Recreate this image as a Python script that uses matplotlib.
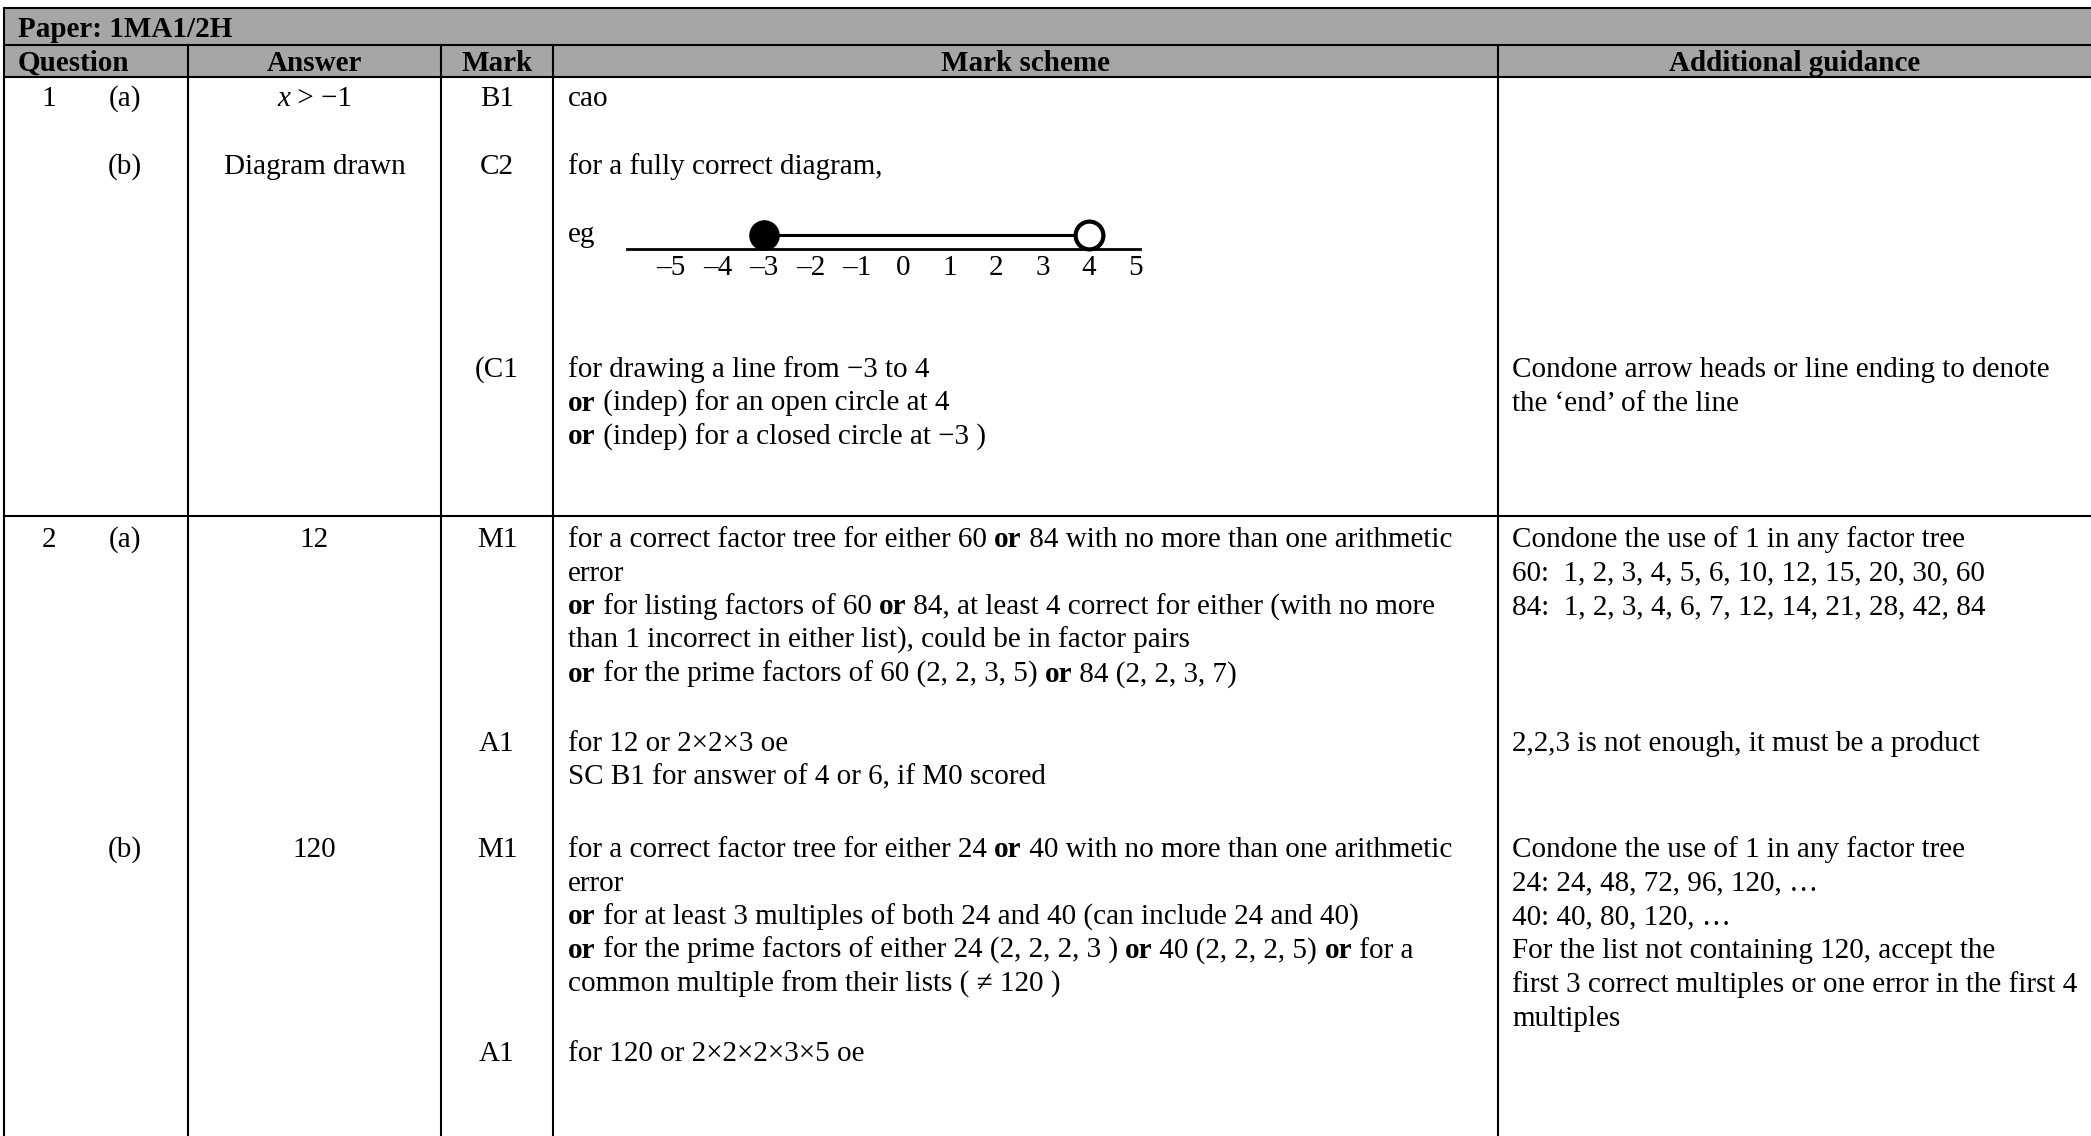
import matplotlib
matplotlib.use("Agg")
import matplotlib.pyplot as plt
from matplotlib.font_manager import FontProperties

# ---------------- data ----------------
paper_title = "Paper: 1MA1/2H"
headers = ["Question", "Answer", "Mark", "Mark scheme", "Additional guidance"]
q_labels = ["1", "2"]
part_labels = ["(a)", "(b)", "(a)", "(b)"]
answers = ["*x* > −1", "Diagram drawn", "12", "120"]
mark_codes = ["B1", "C2", "(C1", "M1", "A1", "M1", "A1"]
scheme_texts = [
    ["cao"],
    ["for a fully correct diagram,"],
    ["for drawing a line from −3 to 4",
     "**or** (indep) for an open circle at 4",
     "**or** (indep) for a closed circle at −3 )"],
    ["for a correct factor tree for either 60 **or** 84 with no more than one arithmetic",
     "error",
     "**or** for listing factors of 60 **or** 84, at least 4 correct for either (with no more",
     "than 1 incorrect in either list), could be in factor pairs",
     "**or** for the prime factors of 60 (2, 2, 3, 5) **or** 84 (2, 2, 3, 7)"],
    ["for 12 or 2×2×3 oe",
     "SC B1 for answer of 4 or 6, if M0 scored"],
    ["for a correct factor tree for either 24 **or** 40 with no more than one arithmetic",
     "error",
     "**or** for at least 3 multiples of both 24 and 40 (can include 24 and 40)",
     "**or** for the prime factors of either 24 (2, 2, 2, 3 ) **or** 40 (2, 2, 2, 5) **or** for a",
     "common multiple from their lists ( ≠ 120 )"],
    ["for 120 or 2×2×2×3×5 oe"],
]
guidance_texts = [
    [],
    [],
    ["Condone arrow heads or line ending to denote",
     "the ‘end’ of the line"],
    ["Condone the use of 1 in any factor tree",
     "60:  1, 2, 3, 4, 5, 6, 10, 12, 15, 20, 30, 60",
     "84:  1, 2, 3, 4, 6, 7, 12, 14, 21, 28, 42, 84"],
    ["2,2,3 is not enough, it must be a product"],
    ["Condone the use of 1 in any factor tree",
     "24: 24, 48, 72, 96, 120, …",
     "40: 40, 80, 120, …",
     "For the list not containing 120, accept the",
     "first 3 correct multiples or one error in the first 4",
     "multiples"],
    [],
]
number_line_values = list(range(-5, 6))
closed_end = -3
open_end = 4

# ---------------- layout (pixels) ----------------
W, H, DPI = 2091, 1136, 100
FS = 21.0
FAM = ['Liberation Serif', 'DejaVu Serif']
LS = 33.7          # line spacing
BASE = 10          # text centre -> baseline offset
col_x = [4, 188, 441, 553, 1498]
row_y = [8, 45, 77, 516]
entry_y = [96, 164, 367, 537, 741, 847, 1051]
part_y = [96, 164, 537, 847]
q_y = [96, 537]
LW = 1.5
GRAY = "#a6a6a6"

fig = plt.figure(figsize=(W / DPI, H / DPI), dpi=DPI)
ax = fig.add_axes([0, 0, 1, 1])
ax.set_xlim(0, W)
ax.set_ylim(H, 0)
ax.axis("off")
renderer = fig.canvas.get_renderer()

def fp(weight="normal", style="normal", size=FS):
    return FontProperties(family=FAM, size=size, weight=weight, style=style)

_bar_cache = {}
def width(s, prop):
    key = (prop.get_weight(), prop.get_style(), prop.get_size())
    if key not in _bar_cache:
        t = ax.text(0, 0, "||", fontproperties=prop)
        _bar_cache[key] = t.get_window_extent(renderer).width
        t.remove()
    t = ax.text(0, 0, "|" + s + "|", fontproperties=prop)
    w = t.get_window_extent(renderer).width - _bar_cache[key]
    t.remove()
    return w

def parse(s, bold_default=False):
    runs = []
    i = 0
    cur = ""
    bold = bold_default
    ital = False
    while i < len(s):
        if s.startswith("**", i):
            if cur:
                runs.append((cur, bold, ital)); cur = ""
            bold = not bold; i += 2
        elif s[i] == "*":
            if cur:
                runs.append((cur, bold, ital)); cur = ""
            ital = not ital; i += 1
        else:
            cur += s[i]; i += 1
    if cur:
        runs.append((cur, bold, ital))
    return runs

def draw(x, yc, s, ha="left", bold=False, size=FS):
    runs = parse(s, bold)
    props = [fp("bold" if b else "normal", "italic" if it else "normal", size) for _, b, it in runs]
    ws = [width(r[0], p) for r, p in zip(runs, props)]
    tot = sum(ws)
    if ha == "center":
        x0 = x - tot / 2
    elif ha == "right":
        x0 = x - tot
    else:
        x0 = x
    for (txt, _, _), p, w in zip(runs, props, ws):
        ax.text(x0, yc + BASE, txt, fontproperties=p, va="baseline", ha="left", color="black")
        x0 += w

# header background
ax.fill_between([col_x[0], W + 5], row_y[0], row_y[2], color=GRAY, zorder=0, lw=0)

# grid lines
for y in row_y:
    ax.plot([col_x[0], W + 5], [y, y], color="black", lw=LW, solid_capstyle="projecting")
ax.plot([col_x[0], col_x[0]], [row_y[0], H + 5], color="black", lw=LW)
for x in col_x[1:]:
    ax.plot([x, x], [row_y[1], H + 5], color="black", lw=LW)

# header text
draw(18, 27, paper_title, bold=True)
draw(18, 61, headers[0], bold=True)
for i, h in enumerate(headers[1:], start=1):
    right = col_x[i + 1] if i + 1 < len(col_x) else W
    draw((col_x[i] + right) / 2, 61, h, ha="center", bold=True)

# question numbers and parts
for q, y in zip(q_labels, q_y):
    draw(49, y, q, ha="center")
for p, y in zip(part_labels, part_y):
    draw(125, y, p, ha="center")
for a, y in zip(answers, part_y):
    draw((col_x[1] + col_x[2]) / 2, y, a, ha="center")

# marks, schemes, guidance
for m, y, sch, gd in zip(mark_codes, entry_y, scheme_texts, guidance_texts):
    draw((col_x[2] + col_x[3]) / 2, y, m, ha="center")
    for k, line in enumerate(sch):
        draw(col_x[3] + 15, y + k * LS, line)
    for k, line in enumerate(gd):
        draw(col_x[4] + 14, y + k * LS, line)

# "eg" + number line
draw(col_x[3] + 15, 232, "eg")
nl_left, nl_right, nl_y = 627, 1140, 249
ax_h = 40
nl_ax = fig.add_axes([nl_left / W, (H - nl_y) / H, (nl_right - nl_left) / W, ax_h / H])
nl_ax.set_xlim(-5.95, 5.10)
nl_ax.set_ylim(0, ax_h)
nl_ax.patch.set_alpha(0)
for s in ["top", "left", "right"]:
    nl_ax.spines[s].set_visible(False)
nl_ax.spines["bottom"].set_linewidth(2.0)
nl_ax.set_yticks([])
nl_ax.set_xticks(number_line_values)
nl_ax.set_xticklabels([str(v).replace("-", "–") for v in number_line_values],
                      fontproperties=fp())
nl_ax.tick_params(axis="x", length=0, pad=4.5)
cy = 14
nl_ax.plot([closed_end, open_end], [cy, cy], color="black", lw=2.2, zorder=2)
nl_ax.plot([closed_end], [cy], marker="o", ms=21, color="black", zorder=3, clip_on=False)
nl_ax.plot([open_end], [cy], marker="o", ms=20, mfc="white", mec="black", mew=3, zorder=3, clip_on=False)

fig.savefig("out.png", dpi=DPI, facecolor="white")
